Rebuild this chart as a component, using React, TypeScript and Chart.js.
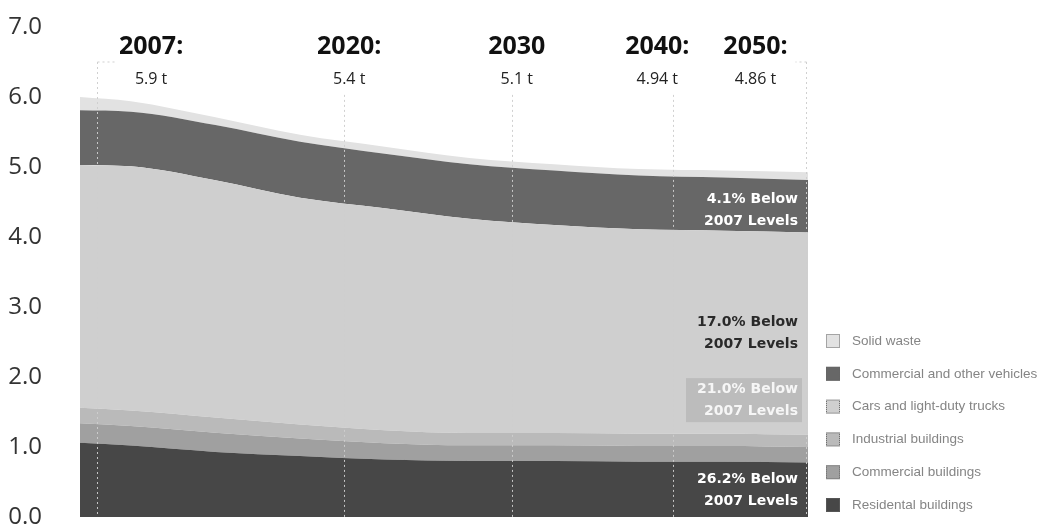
import React, { useEffect, useRef } from "react";
import { Chart, registerables } from "chart.js";
Chart.register(...registerables);

// ---- data (tonnes per person) ----
const years = [2007, 2010, 2015, 2020, 2025, 2030, 2035, 2040, 2045, 2050];
const residentialBuildings = [1.06, 1.02, 0.93, 0.87, 0.82, 0.8, 0.8, 0.79, 0.79, 0.78];
const commercialBuildings = [0.28, 0.28, 0.275, 0.25, 0.235, 0.225, 0.225, 0.225, 0.225, 0.22];
const industrialBuildings = [0.22, 0.22, 0.215, 0.2, 0.185, 0.175, 0.175, 0.175, 0.175, 0.175];
const carsTrucks = [3.47, 3.49, 3.39, 3.24, 3.17, 3.06, 2.97, 2.92, 2.9, 2.89];
const commercialVehicles = [0.78, 0.78, 0.79, 0.8, 0.78, 0.78, 0.78, 0.77, 0.76, 0.75];
const solidWaste = [0.19, 0.15, 0.11, 0.1, 0.1, 0.09, 0.09, 0.09, 0.1, 0.11];

const seriesNames = [
  "Residental buildings",
  "Commercial buildings",
  "Industrial buildings",
  "Cars and light-duty trucks",
  "Commercial and other vehicles",
  "Solid waste",
];
const seriesValues = [
  residentialBuildings,
  commercialBuildings,
  industrialBuildings,
  carsTrucks,
  commercialVehicles,
  solidWaste,
];
const seriesColors = ["#474747", "#a0a0a0", "#bababa", "#cfcfcf", "#676767", "#e2e2e2"];

const yTicks = [0, 1, 2, 3, 4, 5, 6, 7];

// ---- milestone annotations ----
const milestoneYears = ["2007:", "2020:", "2030", "2040:", "2050:"];
const milestoneTotals = ["5.9 t", "5.4 t", "5.1 t", "4.94 t", "4.86 t"];
const milestoneLineX = [2008.0, 2022.6, 2032.5, 2042.0, 2049.9];
const milestoneLabelX = [2011.2, 2022.9, 2032.8, 2041.1, 2046.9];
const milestoneLineTop = [6.5, 6.03, 6.03, 6.03, 6.5];

// ---- band reduction labels ----
const bandLine1 = ["4.1% Below", "17.0% Below", "21.0% Below", "26.2% Below"];
const bandLine2 = ["2007 Levels", "2007 Levels", "2007 Levels", "2007 Levels"];
const bandLabelY = [4.38, 2.62, 1.67, 0.385];
const bandLabelColor = ["#ffffff", "#2a2a2a", "#f6f6f6", "#ffffff"];

const overlayPlugin = {
  id: "overlay",
  afterDatasetsDraw(chart: any) {
    const { ctx, chartArea } = chart;
    const x = chart.scales.x;
    const y = chart.scales.y;
    ctx.save();

    // dotted milestone lines
    ctx.strokeStyle = "rgba(205,205,205,0.95)";
    ctx.lineWidth = 1;
    ctx.setLineDash([2, 3]);
    milestoneLineX.forEach((v, i) => {
      const px = Math.round(x.getPixelForValue(v)) + 0.5;
      const top = y.getPixelForValue(milestoneLineTop[i]);
      ctx.beginPath();
      ctx.moveTo(px, top);
      ctx.lineTo(px, chartArea.bottom);
      ctx.stroke();
      if (i === 0) {
        ctx.beginPath();
        ctx.moveTo(px, top);
        ctx.lineTo(px + 18, top);
        ctx.stroke();
      }
      if (i === milestoneLineX.length - 1) {
        ctx.beginPath();
        ctx.moveTo(px, top);
        ctx.lineTo(px - 11, top);
        ctx.stroke();
      }
    });
    ctx.setLineDash([]);

    // milestone text
    ctx.textAlign = "center";
    ctx.textBaseline = "middle";
    milestoneLabelX.forEach((v, i) => {
      const px = x.getPixelForValue(v);
      ctx.fillStyle = "#111";
      ctx.font = "bold 25px 'Open Sans'";
      ctx.fillText(milestoneYears[i], px, y.getPixelForValue(6.71));
      ctx.fillStyle = "#222";
      ctx.font = "16px 'Open Sans'";
      ctx.fillText(milestoneTotals[i], px, y.getPixelForValue(6.25));
    });

    // band labels
    const right = x.getPixelForValue(2050) - 10;
    ctx.textAlign = "right";
    ctx.font = "bold 14px 'DejaVu Sans'";
    bandLine1.forEach((t, i) => {
      const cy = y.getPixelForValue(bandLabelY[i]);
      if (i === 2) {
        ctx.fillStyle = "#bcbcbc";
        ctx.fillRect(right - 112, cy - 22, 116, 44);
      }
      ctx.fillStyle = bandLabelColor[i];
      ctx.fillText(t, right, cy - 11);
      ctx.fillText(bandLine2[i], right, cy + 11);
    });
    ctx.restore();
  },
  afterDraw(chart: any) {
    const { ctx } = chart;
    ctx.save();
    const startY = 341;
    const step = 32.8;
    ctx.font = "13.5px 'Liberation Sans'";
    ctx.textAlign = "left";
    ctx.textBaseline = "middle";
    for (let k = 0; k < seriesNames.length; k++) {
      const idx = seriesNames.length - 1 - k;
      const cy = startY + k * step;
      ctx.fillStyle = seriesColors[idx];
      ctx.fillRect(826, cy - 7, 14, 14);
      ctx.strokeStyle = "#666";
      ctx.setLineDash([1, 1]);
      ctx.lineWidth = 1;
      ctx.strokeRect(826.5, cy - 6.5, 13, 13);
      ctx.setLineDash([]);
      ctx.fillStyle = "#858585";
      ctx.fillText(seriesNames[idx], 852, cy);
    }
    ctx.restore();
  },
};

export default function App() {
  const ref = useRef<HTMLCanvasElement | null>(null);
  useEffect(() => {
    if (!ref.current) return;
    const chart = new Chart(ref.current, {
      type: "line",
      data: {
        datasets: seriesNames.map((name, i) => ({
          label: name,
          data: years.map((yr, j) => ({ x: yr, y: seriesValues[i][j] })),
          backgroundColor: seriesColors[i],
          borderColor: seriesColors[i],
          borderWidth: 0,
          pointRadius: 0,
          fill: i === 0 ? "origin" : "-1",
          cubicInterpolationMode: "monotone" as const,
        })),
      },
      options: {
        animation: false,
        responsive: false,
        layout: { padding: { top: 27, right: 240, bottom: 12, left: 0 } },
        plugins: { legend: { display: false }, tooltip: { enabled: false } },
        scales: {
          x: { type: "linear", min: 2007, max: 2050, display: false },
          y: {
            stacked: true,
            min: 0,
            max: 7,
            afterFit: (s: any) => {
              s.width = 80;
              s.paddingTop = 12;
              s.paddingBottom = 12;
            },
            grid: { display: false },
            border: { display: false },
            afterBuildTicks: (s: any) => {
              s.ticks = yTicks.map((v) => ({ value: v }));
            },
            ticks: {
              padding: 30,
              color: "#333",
              font: { family: "'Open Sans'", size: 24, lineHeight: 1 },
              callback: (v: any) => Number(v).toFixed(1),
            },
          },
        },
      },
      plugins: [overlayPlugin],
    });
    return () => chart.destroy();
  }, []);
  return (
    <div style={{ position: "fixed", left: 0, top: 0, width: 1048, height: 529, background: "#fff" }}>
      <canvas ref={ref} width={1048} height={529} style={{ display: "block" }} />
    </div>
  );
}
